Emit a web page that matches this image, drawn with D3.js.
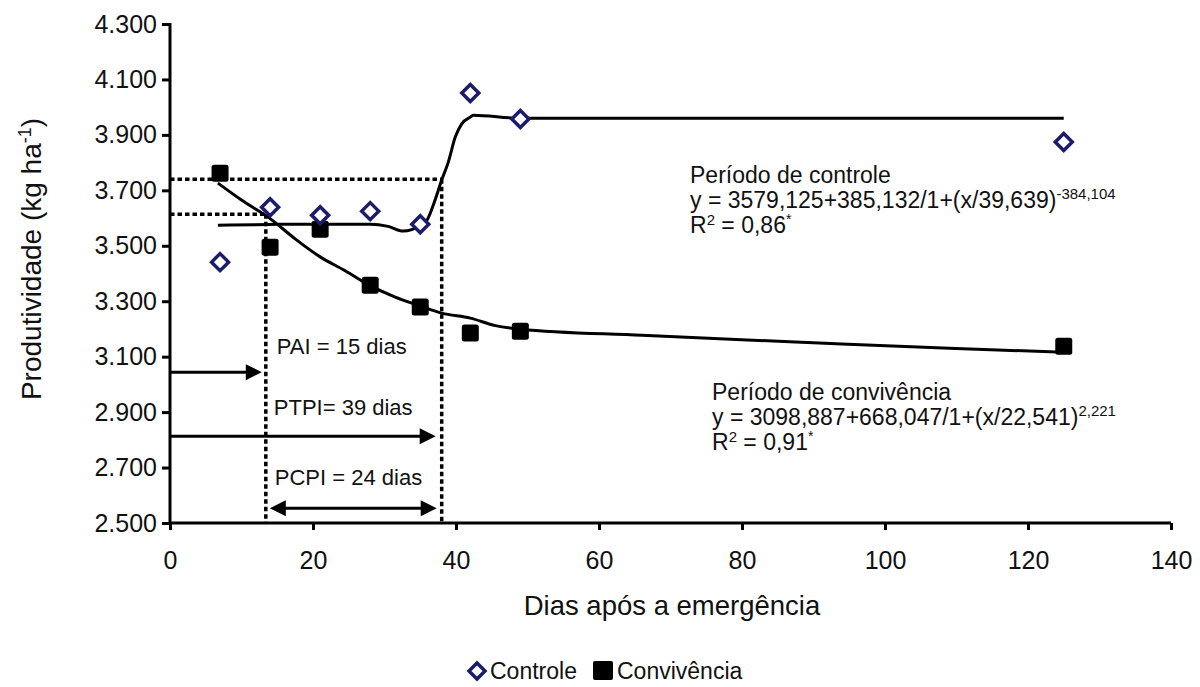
<!DOCTYPE html>
<html><head><meta charset="utf-8">
<script src="https://cdn.jsdelivr.net/npm/d3@7/dist/d3.min.js"></script>
<style>body{margin:0;background:#fff}svg{display:block;font-family:"Liberation Sans",Arial,sans-serif}</style>
</head><body><svg id="c" width="1200" height="687"></svg>
<script>
// ---- data ----
const days = [7, 14, 21, 28, 35, 42, 49, 125];
const controle = [3441, 3639, 3610, 3625, 3578, 4051, 3957, 3874];
const convivencia = [3762, 3495, 3560, 3358, 3279, 3185, 3192, 3138];
const controleFitDays = [6.7, 14, 21, 28, 30.5, 32.6, 35, 36, 37, 38, 38.9, 39.9, 40.8, 42, 42.4, 49, 125];
const controleFitValues = [3574, 3577, 3578, 3578, 3570, 3553, 3572, 3595, 3660, 3737, 3800, 3892, 3940, 3964, 3971, 3960, 3960];
const convFitDays = [6.7, 10, 14, 17.5, 21, 24.5, 28, 31.5, 35, 38, 42, 45.5, 49, 66, 90, 109, 125];
const convFitValues = [3726, 3665, 3598, 3525, 3460, 3410, 3356, 3315, 3283, 3257, 3239, 3212, 3199, 3177, 3150, 3130, 3116];
const xTicks = [0, 20, 40, 60, 80, 100, 120, 140];
const yTicks = [2500, 2700, 2900, 3100, 3300, 3500, 3700, 3900, 4100, 4300];
const yTickLabels = ["2.500", "2.700", "2.900", "3.100", "3.300", "3.500", "3.700", "3.900", "4.100", "4.300"];
const refDays = [13.4, 38.0];        // PAI, PTPI
const refValues = [3614, 3740];
const arrowValues = [3044, 2813, 2553];
const periodLabels = ["PAI = 15 dias", "PTPI= 39 dias", "PCPI = 24 dias"];
const seriesNames = ["Controle", "Convivência"];

// ---- scales ----
const svg = d3.select("#c");
const x = d3.scaleLinear().domain([0, 140]).range([170, 1171]);
const y = d3.scaleLinear().domain([2500, 4300]).range([523, 24]);
const navy = "#1c1c6b";
const FF = '"Liberation Sans",Arial,sans-serif';

// axes
const yAxis = d3.axisLeft(y).tickValues(yTicks).tickSize(8).tickPadding(5)
  .tickFormat((d, i) => yTickLabels[i]);
const gy = svg.append("g").attr("transform", `translate(${x(0)},0)`).call(yAxis);
const xAxis = d3.axisBottom(x).tickValues(xTicks).tickSize(7).tickPadding(21);
const gx = svg.append("g").attr("transform", `translate(0,${y(2500)})`).call(xAxis);
[gx, gy].forEach(g => {
  g.select(".domain").attr("stroke", "#000").attr("stroke-width", 3);
  g.selectAll(".tick line").attr("stroke", "#000").attr("stroke-width", 3);
  g.selectAll(".tick text").attr("fill", "#111").attr("font-size", 25).attr("font-family", FF);
});
gy.select(".domain").attr("d", `M0,${y(4300)-1}H0V${y(2500)}`);
gx.select(".domain").attr("d", `M${x(0)},0H${x(140)}`);

// dotted reference lines
function dl(x1, y1, x2, y2) {
  svg.append("line").attr("x1", x1).attr("y1", y1).attr("x2", x2).attr("y2", y2)
    .attr("stroke", "#000").attr("stroke-width", 3.5).attr("stroke-dasharray", "4.5,3");
}
dl(x(0), y(refValues[1]), x(refDays[1]), y(refValues[1]));
dl(x(refDays[1]), y(refValues[1]), x(refDays[1]), y(2500));
dl(x(0), y(refValues[0]), x(refDays[0]), y(refValues[0]));
dl(x(refDays[0]), y(refValues[0]), x(refDays[0]), y(2500));

// arrows
function head(xt, yt, dir) {
  const L = 16, H = 8;
  svg.append("path").attr("d", `M${xt},${yt}L${xt - dir * L},${yt - H}L${xt - dir * L},${yt + H}Z`).attr("fill", "#000");
}
function arrow(x1, x2, yy, both) {
  svg.append("line").attr("x1", both ? x1 + 8 : x1).attr("x2", x2 - 8).attr("y1", yy).attr("y2", yy)
    .attr("stroke", "#000").attr("stroke-width", 3);
  head(x2, yy, 1);
  if (both) head(x1, yy, -1);
}
arrow(x(0), x(refDays[0]) - 4, y(arrowValues[0]), false);
arrow(x(0), x(refDays[1]) - 6, y(arrowValues[1]), false);
arrow(x(refDays[0]) + 4, x(refDays[1]) - 5, y(arrowValues[2]), true);

const lbl = svg.append("g").attr("font-size", 22).attr("fill", "#111");
lbl.append("text").attr("x", x(refDays[0]) + 11).attr("y", y(arrowValues[0]) - 18).text(periodLabels[0]);
lbl.append("text").attr("x", x(refDays[0]) + 8).attr("y", y(arrowValues[1]) - 21).text(periodLabels[1]);
lbl.append("text").attr("x", x(refDays[0]) + 9).attr("y", y(arrowValues[2]) - 23).text(periodLabels[2]);

// fitted curves
const line = d3.line().x(d => x(d[0])).y(d => y(d[1])).curve(d3.curveMonotoneX);
svg.append("path").datum(controleFitDays.map((d, i) => [d, controleFitValues[i]]))
  .attr("d", line).attr("fill", "none").attr("stroke", "#000").attr("stroke-width", 3);
svg.append("path").datum(convFitDays.map((d, i) => [d, convFitValues[i]]))
  .attr("d", line).attr("fill", "none").attr("stroke", "#000").attr("stroke-width", 3);

// points
const sq = 17;
svg.append("g").selectAll("rect").data(days).join("rect")
  .attr("x", (d) => x(d) - sq / 2).attr("y", (d, i) => y(convivencia[i]) - sq / 2)
  .attr("width", sq).attr("height", sq).attr("rx", 2.5).attr("fill", "#000");
const dm = 8.5;
svg.append("g").selectAll("path").data(days).join("path")
  .attr("d", (d, i) => { const cx = x(d), cy = y(controle[i]);
    return `M${cx},${cy - dm}L${cx + dm},${cy}L${cx},${cy + dm}L${cx - dm},${cy}Z`; })
  .attr("fill", "#fff").attr("stroke", navy).attr("stroke-width", 3.5);

// equations
function eqBlock(x0, y0, title, eq, sup, r2) {
  const g = svg.append("g").attr("font-size", 23).attr("fill", "#111");
  g.append("text").attr("x", x0).attr("y", y0).text(title);
  const t = g.append("text").attr("x", x0).attr("y", y0 + 25);
  t.append("tspan").text(eq);
  t.append("tspan").attr("dy", -9).attr("font-size", 15).text(sup);
  const r = g.append("text").attr("x", x0).attr("y", y0 + 50);
  r.append("tspan").text("R");
  r.append("tspan").attr("dy", -8).attr("font-size", 15).text("2");
  r.append("tspan").attr("dy", 8).text(" = " + r2);
  r.append("tspan").attr("dy", -9).attr("font-size", 14).text("*");
}
eqBlock(690, 183, "Período de controle", "y = 3579,125+385,132/1+(x/39,639)", "-384,104", "0,86");
eqBlock(712, 400, "Período de convivência", "y = 3098,887+668,047/1+(x/22,541)", "2,221", "0,91");

// axis titles
svg.append("text").attr("x", 672).attr("y", 615).attr("text-anchor", "middle")
  .attr("font-size", 27.5).attr("fill", "#111").text("Dias após a emergência");
const yt = svg.append("text").attr("transform", `translate(41,259) rotate(-90)`)
  .attr("text-anchor", "middle").attr("font-size", 28).attr("fill", "#111");
yt.append("tspan").text("Produtividade (kg ha");
yt.append("tspan").attr("dy", -10).attr("font-size", 18).text("-1");
yt.append("tspan").attr("dy", 10).text(")");

// legend
const lg = svg.append("g").attr("font-size", 23).attr("fill", "#111");
const ly = 671, D = 477;
lg.append("path").attr("d", `M${D},${ly - 8}L${D + 8},${ly}L${D},${ly + 8}L${D - 8},${ly}Z`)
  .attr("fill", "#fff").attr("stroke", navy).attr("stroke-width", 3.5);
lg.append("text").attr("x", D + 13).attr("y", ly + 8).text(seriesNames[0]);
lg.append("rect").attr("x", D + 116).attr("y", ly - 10).attr("width", 20).attr("height", 19).attr("rx", 2).attr("fill", "#000");
lg.append("text").attr("x", D + 140).attr("y", ly + 8).text(seriesNames[1]);
</script></body></html>
